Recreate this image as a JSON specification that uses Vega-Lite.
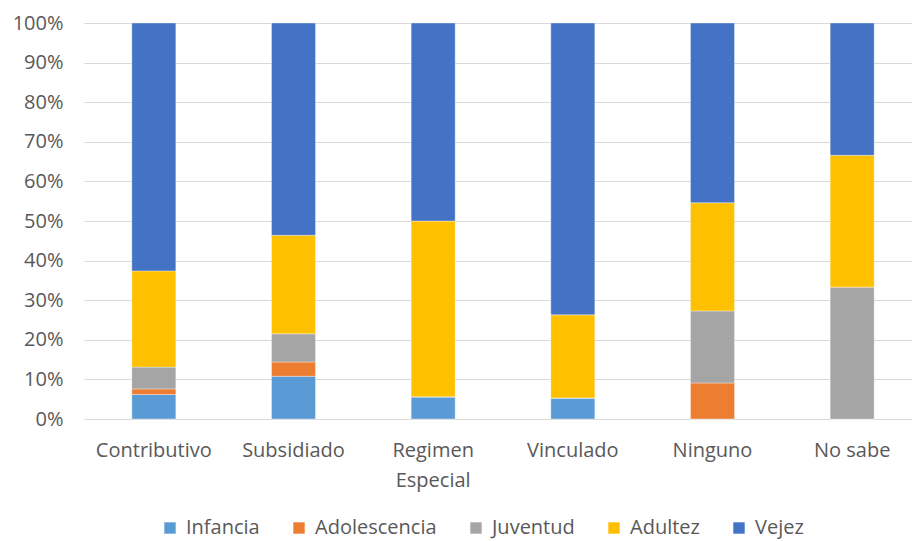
{
  "$schema": "https://vega.github.io/schema/vega-lite/v6.json",
  "autosize": {"type": "none"},
  "width": 838,
  "height": 396,
  "padding": {"left": 84, "top": 23, "right": 0, "bottom": 122},
  "background": "white",
  "config": {
    "view": {"stroke": null},
    "font": "Open Sans"
  },
  "data": {
    "values": [
      {"regimen": "Contributivo", "grupo": "Infancia", "orden": 1, "pct": 6.2},
      {"regimen": "Contributivo", "grupo": "Adolescencia", "orden": 2, "pct": 1.4},
      {"regimen": "Contributivo", "grupo": "Juventud", "orden": 3, "pct": 5.5},
      {"regimen": "Contributivo", "grupo": "Adultez", "orden": 4, "pct": 24.3},
      {"regimen": "Contributivo", "grupo": "Vejez", "orden": 5, "pct": 62.6},
      {"regimen": "Subsidiado", "grupo": "Infancia", "orden": 1, "pct": 10.8},
      {"regimen": "Subsidiado", "grupo": "Adolescencia", "orden": 2, "pct": 3.6},
      {"regimen": "Subsidiado", "grupo": "Juventud", "orden": 3, "pct": 7.1},
      {"regimen": "Subsidiado", "grupo": "Adultez", "orden": 4, "pct": 24.9},
      {"regimen": "Subsidiado", "grupo": "Vejez", "orden": 5, "pct": 53.6},
      {"regimen": "Regimen Especial", "grupo": "Infancia", "orden": 1, "pct": 5.6},
      {"regimen": "Regimen Especial", "grupo": "Adolescencia", "orden": 2, "pct": 0},
      {"regimen": "Regimen Especial", "grupo": "Juventud", "orden": 3, "pct": 0},
      {"regimen": "Regimen Especial", "grupo": "Adultez", "orden": 4, "pct": 44.4},
      {"regimen": "Regimen Especial", "grupo": "Vejez", "orden": 5, "pct": 50.0},
      {"regimen": "Vinculado", "grupo": "Infancia", "orden": 1, "pct": 5.3},
      {"regimen": "Vinculado", "grupo": "Adolescencia", "orden": 2, "pct": 0},
      {"regimen": "Vinculado", "grupo": "Juventud", "orden": 3, "pct": 0},
      {"regimen": "Vinculado", "grupo": "Adultez", "orden": 4, "pct": 21.0},
      {"regimen": "Vinculado", "grupo": "Vejez", "orden": 5, "pct": 73.7},
      {"regimen": "Ninguno", "grupo": "Infancia", "orden": 1, "pct": 0},
      {"regimen": "Ninguno", "grupo": "Adolescencia", "orden": 2, "pct": 9.1},
      {"regimen": "Ninguno", "grupo": "Juventud", "orden": 3, "pct": 18.2},
      {"regimen": "Ninguno", "grupo": "Adultez", "orden": 4, "pct": 27.3},
      {"regimen": "Ninguno", "grupo": "Vejez", "orden": 5, "pct": 45.4},
      {"regimen": "No sabe", "grupo": "Infancia", "orden": 1, "pct": 0},
      {"regimen": "No sabe", "grupo": "Adolescencia", "orden": 2, "pct": 0},
      {"regimen": "No sabe", "grupo": "Juventud", "orden": 3, "pct": 33.3},
      {"regimen": "No sabe", "grupo": "Adultez", "orden": 4, "pct": 33.3},
      {"regimen": "No sabe", "grupo": "Vejez", "orden": 5, "pct": 33.4}
    ]
  },
  "mark": {"type": "bar", "stroke": "#ffffff", "strokeWidth": 0.6, "strokeOpacity": 0.6},
  "encoding": {
    "x": {
      "field": "regimen",
      "type": "nominal",
      "sort": ["Contributivo", "Subsidiado", "Regimen Especial", "Vinculado", "Ninguno", "No sabe"],
      "scale": {"paddingInner": 0.685, "paddingOuter": 0.3425},
      "axis": {
        "title": null,
        "labelAngle": 0,
        "labelFontSize": 20,
        "labelColor": "#595959",
        "labelPadding": 21,
        "labelLineHeight": 30,
        "ticks": false,
        "domainColor": "#d9d9d9",
        "domainWidth": 1,
        "labelExpr": "datum.label == 'Regimen Especial' ? ['Regimen', 'Especial'] : datum.label"
      }
    },
    "y": {
      "field": "pct",
      "type": "quantitative",
      "stack": "normalize",
      "scale": {"domain": [0, 1]},
      "axis": {
        "title": null,
        "format": ".0%",
        "values": [0, 0.1, 0.2, 0.3, 0.4, 0.5, 0.6, 0.7, 0.8, 0.9, 1],
        "labelOverlap": false,
        "labelFontSize": 20,
        "labelColor": "#595959",
        "labelPadding": 21,
        "ticks": false,
        "domain": false,
        "gridColor": "#d9d9d9",
        "gridWidth": 1
      }
    },
    "color": {
      "field": "grupo",
      "type": "nominal",
      "scale": {
        "domain": ["Infancia", "Adolescencia", "Juventud", "Adultez", "Vejez"],
        "range": ["#5b9bd5", "#ed7d31", "#a5a5a5", "#ffc000", "#4472c4"]
      },
      "legend": {
        "title": null,
        "orient": "none",
        "direction": "horizontal",
        "legendX": 76,
        "legendY": 495,
        "symbolType": "square",
        "symbolSize": 130,
        "symbolStrokeWidth": 0,
        "labelFontSize": 20,
        "labelColor": "#595959",
        "labelOffset": 6,
        "columnPadding": 29
      }
    },
    "order": {"field": "orden", "type": "quantitative"}
  }
}
